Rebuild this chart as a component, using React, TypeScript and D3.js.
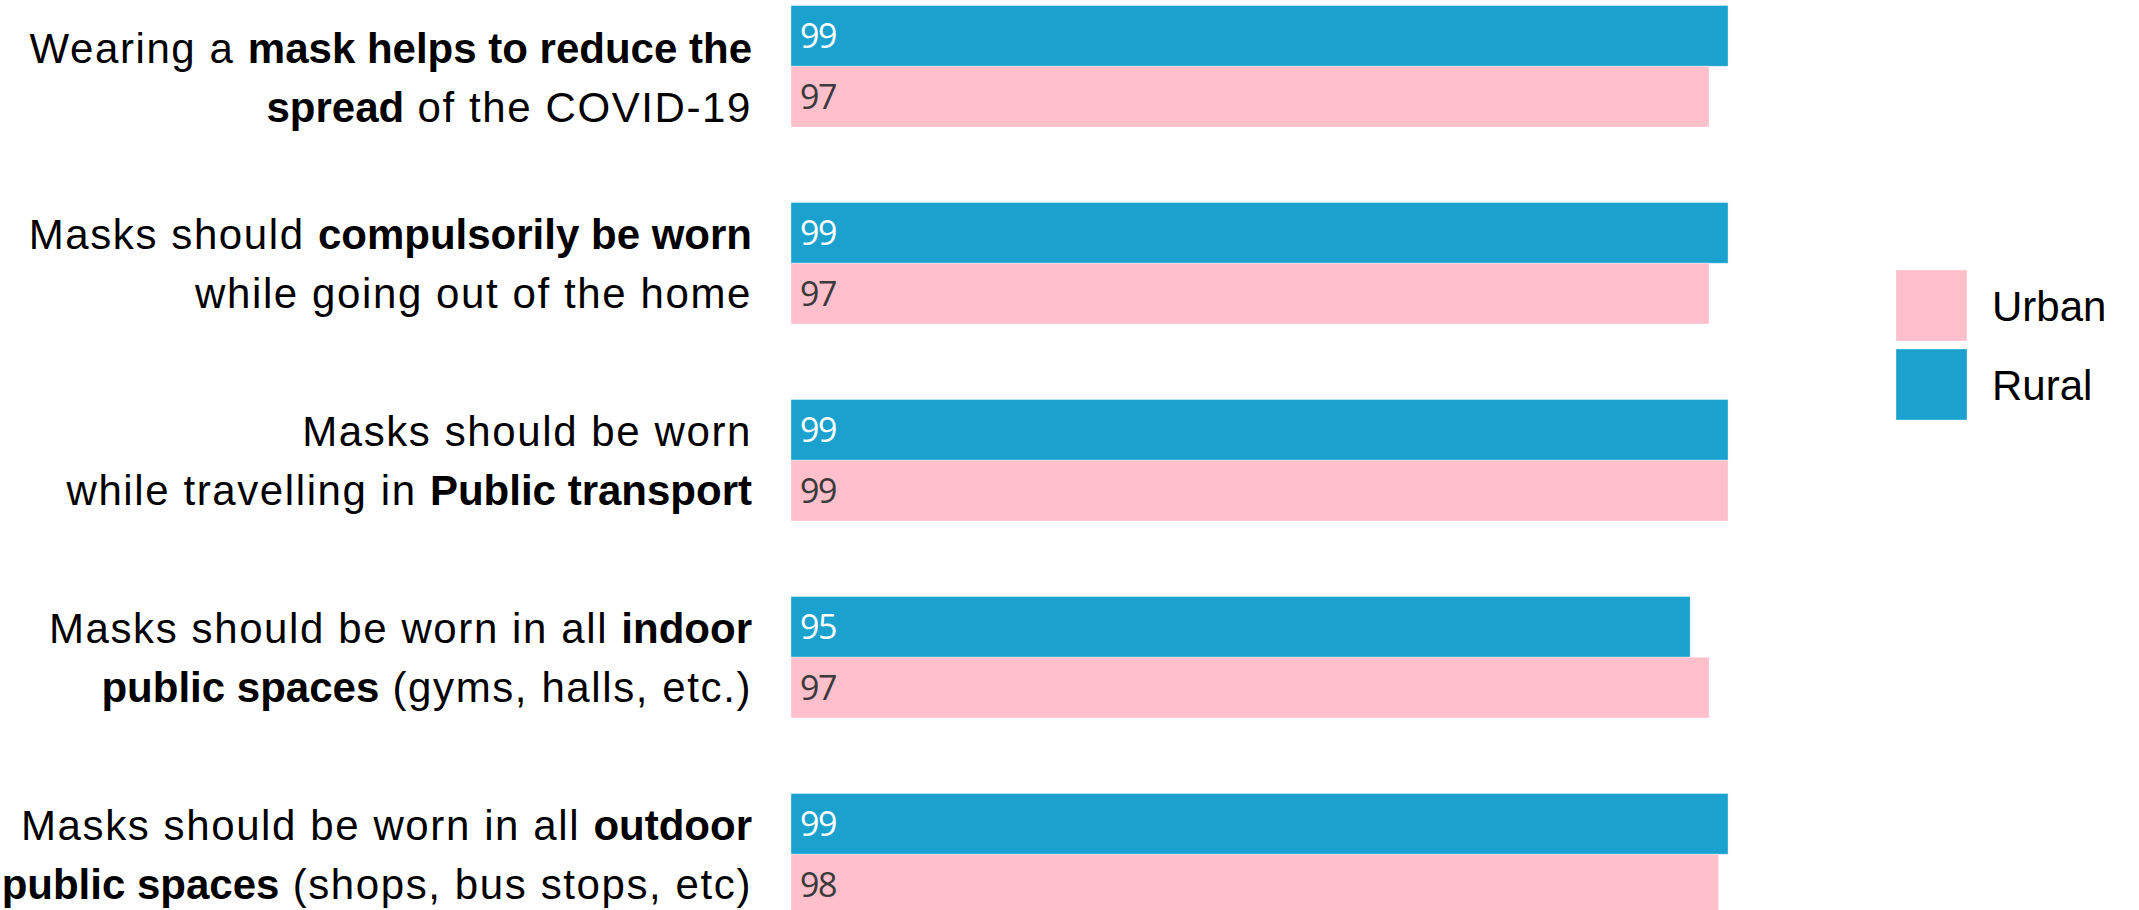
import React from "react";
import * as d3 from "d3";

type Seg = [string, boolean];

const categories = ["q1", "q2", "q3", "q4", "q5"];
const labelLine1: Seg[][] = [
  [["Wearing a ", false], ["mask helps to reduce the", true]],
  [["Masks should ", false], ["compulsorily be worn", true]],
  [["Masks should be worn", false]],
  [["Masks should be worn in all ", false], ["indoor", true]],
  [["Masks should be worn in all ", false], ["outdoor", true]],
];
const labelLine2: Seg[][] = [
  [["spread", true], [" of the COVID-19", false]],
  [["while going out of the home", false]],
  [["while travelling in ", false], ["Public transport", true]],
  [["public spaces", true], [" (gyms, halls, etc.)", false]],
  [["public spaces", true], [" (shops, bus stops, etc)", false]],
];
const ruralValues = [99, 99, 99, 95, 99];
const urbanValues = [97, 97, 99, 97, 98];
const seriesNames = ["Rural", "Urban"];
const legendOrder = ["Urban", "Rural"];

const W = 2139;
const H = 910;
const colors: Record<string, string> = { Rural: "#1aa1cd", Urban: "#ffbfcb" };
const labelColors: Record<string, string> = { Rural: "#ffffff", Urban: "#3a3a3a" };

export default function App() {
  const x = d3.scaleLinear().domain([0, 100]).range([791, 1737.5]);
  const step = 197;
  const band = 121.5;
  const y = d3
    .scaleBand<string>()
    .domain(categories)
    .range([5.5, 5.5 + 4 * step + band])
    .paddingInner((step - band) / step)
    .paddingOuter(0);
  const sub = d3.scaleBand<string>().domain(seriesNames).range([0, y.bandwidth()]);
  const values: Record<string, number[]> = { Rural: ruralValues, Urban: urbanValues };

  const fontLabel = "'Liberation Sans', Arial, sans-serif";
  const fontSize = 42;
  const lineGap = 59;
  const cap = fontSize * 0.716;

  const segs = (line: Seg[]) =>
    line.map(([t, b], k) => (
      <tspan
        key={k}
        fontWeight={b ? 700 : 400}
        letterSpacing={b ? 0 : 1.6}
        style={{ whiteSpace: "pre" }}
      >
        {t}
      </tspan>
    ));

  return (
    <svg
      width={W}
      height={H}
      style={{ position: "absolute", left: 0, top: 0, background: "#fff" }}
    >
      {categories.map((c, i) => {
        const y0 = y(c)!;
        const center = y0 + y.bandwidth() / 2;
        let top = center - (lineGap + cap) / 2;
        top = Math.max(top, 33);
        const b1 = top + cap;
        const b2 = b1 + lineGap;
        return (
          <g key={c}>
            {seriesNames.map((s) => {
              const v = values[s][i];
              const yy = y0 + sub(s)!;
              return (
                <g key={s}>
                  <rect
                    x={x(0)}
                    y={yy}
                    width={x(v) - x(0)}
                    height={sub.bandwidth()}
                    fill={colors[s]}
                    stroke="#ffffff"
                    strokeOpacity={0.35}
                    strokeWidth={1}
                  />
                  <text
                    x={x(0) + 9}
                    y={yy + sub.bandwidth() / 2 + 12}
                    fill={labelColors[s]}
                    fontFamily="'Open Sans', sans-serif"
                    fontSize={34}
                    letterSpacing={-1.5}
                  >
                    {v}
                  </text>
                </g>
              );
            })}
            <text x={752} y={b1} textAnchor="end" fontFamily={fontLabel} fontSize={fontSize} fill="#000">
              {segs(labelLine1[i])}
            </text>
            <text x={752} y={b2} textAnchor="end" fontFamily={fontLabel} fontSize={fontSize} fill="#000">
              {segs(labelLine2[i])}
            </text>
          </g>
        );
      })}
      {legendOrder.map((s, i) => {
        const ly = 270 + i * 79;
        return (
          <g key={s}>
            <rect x={1896} y={ly} width={71} height={71} fill={colors[s]} stroke="#ffffff" strokeOpacity={0.35} />
            <text x={1992} y={ly + 35.5 + 15} fontFamily={fontLabel} fontSize={42} fill="#000">
              {s}
            </text>
          </g>
        );
      })}
    </svg>
  );
}
